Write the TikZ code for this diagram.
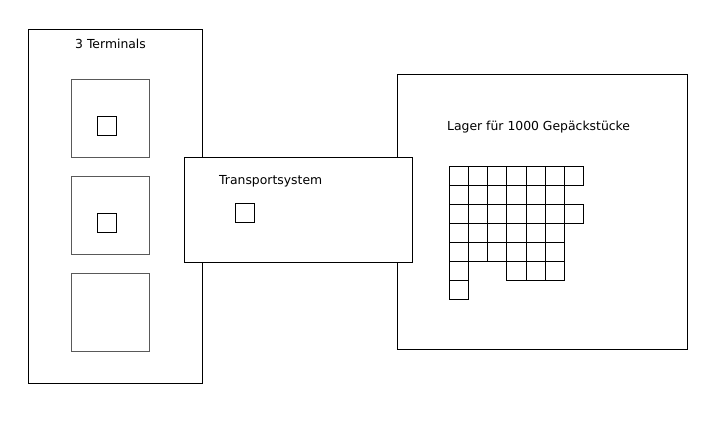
\documentclass[tikz,border=0pt]{standalone}
\usepackage{fontspec}
\setmainfont{DejaVu Sans}
\begin{document}
\begin{tikzpicture}[x=1pt,y=-1pt,
	box/.style={draw,line width=1pt,inner sep=0pt,anchor=north west},
	term/.style={box,draw=black!65,minimum width=78pt,minimum height=78pt},
	slot/.style={box,minimum width=19pt,minimum height=19pt},
	cell/.style={box,minimum width=19.15pt,minimum height=19pt},
	label/.style={inner sep=0pt,anchor=base west,font=\fontsize{12.4}{14}\selectfont}]
		\useasboundingbox (0,0) rectangle (723,446);

		% Terminals
		\node (terminals)[box,minimum width=174pt,minimum height=354pt] at (28,29) {};
		\node (tlabel)[label] at (75,49) {3 Terminals};
		\node (t1)[term] at (71,79) {};
		\node (t2)[term] at (71,176) {};
		\node (t3)[term] at (71,273) {};
		\node (s1)[slot] at (97,116) {};
		\node (s2)[slot] at (97,213) {};

		% Lager
		\node (lager)[box,minimum width=290pt,minimum height=275pt] at (397,74) {};
		\node (llabel)[label] at (447,130.3) {Lager für 1000 Gepäckstücke};
		\foreach \r/\cl in {1/{1,...,7},2/{1,...,6},3/{1,...,7},4/{1,...,6},5/{1,...,6},6/{1,4,5,6},7/{1}}
			\foreach \c in \cl
				\node (c\r\c)[cell] at ({449+19.15*(\c-1)},{166+19*(\r-1)}) {};

		% Transportsystem
		\node (transport)[box,fill=white,minimum width=228pt,minimum height=105pt] at (184,157) {};
		\node (plabel)[label] at (219,185) {Transportsystem};
		\node (s3)[slot] at (235,203) {};
	\end{tikzpicture}
\end{document}
